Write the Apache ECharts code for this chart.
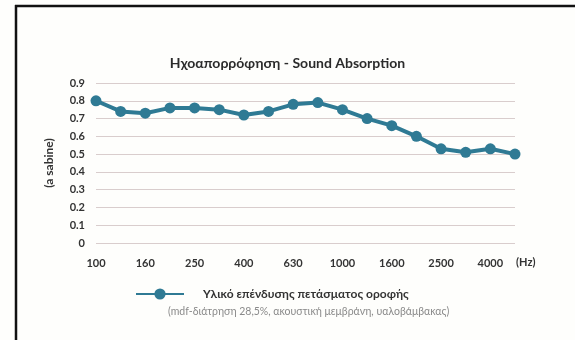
<!DOCTYPE html>
<html>
<head>
<meta charset="utf-8">
<script src="https://cdn.jsdelivr.net/npm/echarts@6/dist/echarts.min.js"></script>
<style>
html,body{margin:0;padding:0;background:#fefefc;}
#c{width:575px;height:340px;}
</style>
</head>
<body>
<div id="c"></div>
<script>
var categories = ['100','125','160','200','250','315','400','500','630','800','1000','1250','1600','2000','2500','3150','4000','5000'];
var absorption = [0.80,0.74,0.73,0.76,0.76,0.75,0.72,0.74,0.78,0.79,0.75,0.70,0.66,0.60,0.53,0.51,0.53,0.50];
var seriesName = 'Υλικό επένδυσης πετάσματος οροφής';
var subtitle = '(mdf-διάτρηση 28,5%, ακουστική μεμβράνη, υαλοβάμβακας)';
var titleText = 'Ηχοαπορρόφηση - Sound Absorption';
var yName = '(a sabine)';
var xUnit = '(Hz)';

var FONT = 'Lato';
var chart = echarts.init(document.getElementById('c'));
chart.setOption({
  backgroundColor: '#fefefc',
  animation: false,
  title: {
    text: titleText, left: 'center', top: 51,
    textStyle: {fontFamily: FONT, fontSize: 14, fontWeight: 'bold', color: '#2b2b2b'}
  },
  grid: {left: 96, right: 60, top: 83, bottom: 97},
  legend: {
    left: 130, top: 283,
    itemWidth: 48, itemHeight: 14,
    data: [seriesName],
    textStyle: {fontFamily: FONT, fontSize: 12, fontWeight: 'bold', color: '#333', padding: [0,0,0,14]}
  },
  xAxis: {
    type: 'category', data: categories, boundaryGap: false,
    axisLine: {show: false}, axisTick: {show: false},
    axisLabel: {interval: 1, margin: 15, fontFamily: FONT, fontSize: 11, fontWeight: 'bold', color: '#333'}
  },
  yAxis: {
    type: 'value', min: 0, max: 0.9, interval: 0.1,
    name: yName, nameLocation: 'middle', nameGap: 41,
    nameTextStyle: {fontFamily: FONT, fontSize: 12, fontWeight: 'bold', color: '#333'},
    axisLine: {show: false}, axisTick: {show: false},
    axisLabel: {margin: 11, fontFamily: FONT, fontSize: 11, fontWeight: 'bold', color: '#333',
      formatter: function(v){ return v === 0 ? '0' : v.toFixed(1); }},
    splitLine: {lineStyle: {color: '#d9cdcd', width: 1}}
  },
  series: [{
    name: seriesName, type: 'line', data: absorption,
    symbol: 'circle', symbolSize: 11,
    lineStyle: {color: '#2f7a94', width: 4},
    itemStyle: {color: '#2f7a94'}
  }],
  graphic: [
    {type: 'text', left: 516, top: 257, style: {text: xUnit, font: 'bold 11px Lato', fill: '#333'}},
    {type: 'text', left: 168, top: 306, style: {text: subtitle, font: '10.5px Lato', fill: '#8a8a8a'}},
    {type: 'line', shape: {x1: 15, y1: 6, x2: 575, y2: 6}, style: {stroke: '#111', lineWidth: 2.5}},
    {type: 'line', shape: {x1: 16, y1: 5, x2: 16, y2: 340}, style: {stroke: '#111', lineWidth: 2.5}}
  ]
});
</script>
</body>
</html>
